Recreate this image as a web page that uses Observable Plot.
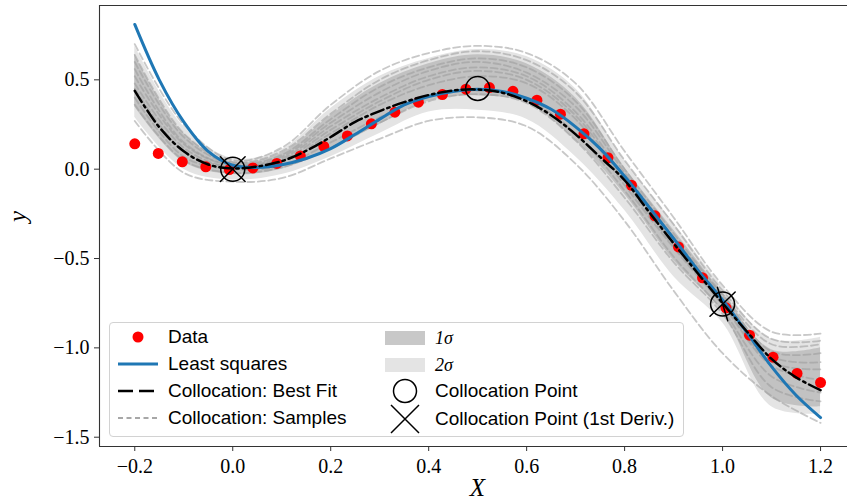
<!DOCTYPE html>
<html>
<head>
<meta charset="utf-8">
<script src="https://cdn.jsdelivr.net/npm/d3@7"></script>
<script src="https://cdn.jsdelivr.net/npm/@observablehq/plot@0.6"></script>
<style>
  html, body { margin: 0; padding: 0; background: white; }
  #wrap { position: relative; width: 847px; height: 504px; }
  #legend { position: absolute; left: 109px; top: 322px; width: 573px; height: 113px;
    border: 1px solid #d2d2d2; border-radius: 4px; background: rgba(255,255,255,0.85);
    font-family: "Liberation Sans", Arial, sans-serif; font-size: 19px; color: #000; }
  .item { position: absolute; display: flex; align-items: center; white-space: nowrap; height: 26px; }
  .item svg { margin-right: 10px; flex: none; }
  .math { font-family: "Liberation Serif", serif; font-style: italic; font-size: 18px; }
</style>
</head>
<body>
<div id="wrap"></div>
<script>
// ---- data points ----
const dataX = [-0.2, -0.152, -0.103, -0.055, -0.007, 0.041, 0.090, 0.138, 0.186, 0.234,
  0.283, 0.331, 0.379, 0.428, 0.476, 0.524, 0.572, 0.621, 0.669, 0.717,
  0.766, 0.814, 0.862, 0.910, 0.959, 1.007, 1.055, 1.103, 1.152, 1.200];
const dataY = [0.142, 0.088, 0.041, 0.013, -0.002, 0.007, 0.032, 0.074, 0.127, 0.186,
  0.254, 0.319, 0.375, 0.418, 0.448, 0.457, 0.436, 0.386, 0.308, 0.198,
  0.064, -0.090, -0.261, -0.435, -0.608, -0.776, -0.929, -1.052, -1.143, -1.194];

// ---- fitted curves (x every 0.05) ----
const fitX = [-0.2, -0.15, -0.1, -0.05, 0.0, 0.05, 0.1, 0.15, 0.2, 0.25, 0.3, 0.35, 0.4, 0.45, 0.5,
  0.55, 0.6, 0.65, 0.7, 0.75, 0.8, 0.85, 0.9, 0.95, 1.0, 1.05, 1.1, 1.15, 1.2];
const leastSquaresY = [0.81, 0.50, 0.265, 0.10, 0.022, 0.010, 0.025, 0.06, 0.115, 0.195, 0.28, 0.36, 0.407, 0.435, 0.447,
  0.435, 0.397, 0.335, 0.237, 0.115, -0.040, -0.213, -0.388, -0.566, -0.732, -0.916, -1.105, -1.265, -1.39];
const bestFitY = [0.438, 0.235, 0.100, 0.026, 0.004, 0.015, 0.045, 0.103, 0.180, 0.265, 0.325, 0.375, 0.415, 0.440, 0.446,
  0.428, 0.380, 0.302, 0.195, 0.068, -0.062, -0.240, -0.415, -0.585, -0.750, -0.910, -1.062, -1.165, -1.237];

// ---- uncertainty bands and samples (x every 0.1) ----
const gridX = [-0.2, -0.1, 0.0, 0.1, 0.2, 0.3, 0.4, 0.5, 0.6, 0.7, 0.8, 0.9, 1.0, 1.1, 1.2];
const lo2 = [0.29, 0.00, -0.06, -0.03, 0.07, 0.20, 0.32, 0.33, 0.28, 0.07, -0.23, -0.60, -0.86, -1.33, -1.37];
const lo1 = [0.35, 0.04, -0.03, 0.00, 0.11, 0.25, 0.38, 0.41, 0.37, 0.16, -0.14, -0.51, -0.80, -1.28, -1.33];
const hi1 = [0.64, 0.20, 0.04, 0.09, 0.30, 0.48, 0.59, 0.64, 0.59, 0.40, 0.01, -0.34, -0.69, -1.01, -1.00];
const hi2 = [0.69, 0.24, 0.06, 0.11, 0.34, 0.52, 0.62, 0.67, 0.63, 0.45, 0.05, -0.30, -0.66, -0.95, -0.94];

const sample1  = [0.70, 0.25, 0.05, 0.12, 0.36, 0.55, 0.65, 0.69, 0.65, 0.48, 0.10, -0.27, -0.65, -0.91, -0.92];
const sample2  = [0.27, -0.02, -0.07, -0.05, 0.06, 0.17, 0.27, 0.29, 0.24, 0.03, -0.29, -0.68, -1.03, -1.27, -1.42];
const sample3  = [0.60, 0.18, 0.03, 0.08, 0.28, 0.46, 0.57, 0.62, 0.57, 0.38, 0.00, -0.36, -0.70, -0.98, -0.98];
const sample4  = [0.52, 0.14, 0.02, 0.06, 0.24, 0.40, 0.52, 0.57, 0.52, 0.32, -0.05, -0.41, -0.73, -1.05, -1.08];
const sample5  = [0.45, 0.10, 0.01, 0.04, 0.20, 0.36, 0.47, 0.52, 0.48, 0.28, -0.09, -0.44, -0.76, -1.10, -1.18];
const sample6  = [0.40, 0.07, 0.00, 0.02, 0.15, 0.29, 0.41, 0.44, 0.39, 0.20, -0.12, -0.49, -0.79, -1.16, -1.25];
const sample7  = [0.36, 0.05, -0.02, 0.01, 0.12, 0.26, 0.38, 0.42, 0.37, 0.16, -0.16, -0.52, -0.81, -1.22, -1.30];
const sample8  = [0.56, 0.15, 0.02, 0.07, 0.26, 0.43, 0.55, 0.60, 0.54, 0.35, -0.02, -0.38, -0.71, -1.02, -1.03];
const sample9  = [0.48, 0.12, 0.01, 0.05, 0.22, 0.38, 0.50, 0.55, 0.50, 0.30, -0.07, -0.43, -0.75, -1.08, -1.12];
const sample10 = [0.64, 0.20, 0.04, 0.10, 0.31, 0.50, 0.61, 0.66, 0.61, 0.43, 0.05, -0.31, -0.68, -0.95, -0.96];

// ---- collocation points ----
const collocX = [0.0, 0.5, 1.0];
const collocY = [0.0, 0.452, -0.755];
const derivX = [0.0, 0.0, 1.0, 1.0];
const derivY = [0.0, 0.0, -0.755, -0.755];
const derivAngle = [45, 135, 46, 163];

// ---- ticks ----
const xTicks = [-0.2, 0.0, 0.2, 0.4, 0.6, 0.8, 1.0, 1.2];
const yTicks = [0.5, 0.0, -0.5, -1.0, -1.5];

const fmt = d => (d < 0 ? "\u2212" : "") + Math.abs(d).toFixed(1);

const dataRows = dataX.map((x, i) => ({x, y: dataY[i]}));
const lsRows = fitX.map((x, i) => ({x, y: leastSquaresY[i]}));
const bfRows = fitX.map((x, i) => ({x, y: bestFitY[i]}));
const bandRows = gridX.map((x, i) => ({x, lo1: lo1[i], hi1: hi1[i], lo2: lo2[i], hi2: hi2[i]}));
const samples = [sample1, sample2, sample3, sample4, sample5, sample6, sample7, sample8, sample9, sample10];
const sampleRows = samples.flatMap((s, k) => gridX.map((x, i) => ({x, y: s[i], s: k})));
const collocRows = collocX.map((x, i) => ({x, y: collocY[i]}));
const derivRows = derivX.map((x, i) => ({x, y: derivY[i], a: derivAngle[i]}));

const X0 = -0.272, X1 = 1.255, Y0 = -1.552, Y1 = 0.916;

const stroke = {
  draw(context, l) { context.moveTo(0, 0); context.lineTo(0, -l); }
};

const chart = Plot.plot({
  width: 847,
  height: 504,
  marginLeft: 99,
  marginRight: 0,
  marginTop: 5,
  marginBottom: 58,
  x: {domain: [X0, X1]},
  y: {domain: [Y0, Y1]},
  style: {fontFamily: "'Liberation Serif', 'DejaVu Serif', serif", fontSize: "20px", background: "white", overflow: "visible"},
  marks: [
    Plot.areaY(bandRows, {x: "x", y1: "lo2", y2: "hi2", fill: "#e4e4e4", curve: "catmull-rom"}),
    Plot.areaY(bandRows, {x: "x", y1: "lo1", y2: "hi1", fill: "#c2c2c2", curve: "catmull-rom"}),
    Plot.line(sampleRows, {x: "x", y: "y", z: "s", stroke: "#9a9a9a", strokeOpacity: 0.55, strokeWidth: 1.8,
      strokeDasharray: "7,3.5", curve: "catmull-rom"}),
    Plot.dot(dataRows, {x: "x", y: "y", r: 5.5, fill: "#ff0000", stroke: "none"}),
    Plot.line(lsRows, {x: "x", y: "y", stroke: "#1f77b4", strokeWidth: 3, curve: "catmull-rom"}),
    Plot.line(bfRows, {x: "x", y: "y", stroke: "black", strokeWidth: 2.5, strokeDasharray: "13,4,2.5,4",
      curve: "catmull-rom"}),
    Plot.dot(collocRows, {x: "x", y: "y", r: 12, stroke: "black", strokeWidth: 1.5, fill: "none"}),
    Plot.vector(derivRows, {x: "x", y: "y", rotate: "a", length: 35, anchor: "middle", shape: stroke,
      stroke: "black", strokeWidth: 1.5}),
    Plot.ruleX([X0], {stroke: "#333", strokeWidth: 1.1}),
    Plot.ruleY([Y0], {stroke: "#333", strokeWidth: 1.1}),
    Plot.ruleY([Y1], {stroke: "#333", strokeWidth: 1.1}),
    Plot.axisX({ticks: xTicks, tickFormat: fmt, tickSize: 5, tickPadding: 7, fontSize: 20, label: null, stroke: "#333"}),
    Plot.axisY({ticks: yTicks, tickFormat: fmt, tickSize: 5, tickPadding: 5, fontSize: 20, label: null, stroke: "#333"}),
    Plot.text(["X"], {frameAnchor: "bottom", text: d => d, dx: 4, dy: 49, fontSize: 25, fontStyle: "italic"}),
    Plot.text(["y"], {frameAnchor: "left", text: d => d, dx: -82, dy: -4, rotate: -90, fontSize: 25, fontStyle: "italic"})
  ]
});

const wrap = document.getElementById("wrap");
wrap.appendChild(chart);

// ---- legend (HTML overlay) ----
const legend = document.createElement("div");
legend.id = "legend";
wrap.appendChild(legend);
const L = 109, T = 322;
const items = [
  {px: 118, py: 337, label: "Data", handle: `<circle cx="20" cy="13" r="5.5" fill="#ff0000"/>`},
  {px: 118, py: 364, label: "Least squares", handle: `<line x1="0" y1="13" x2="40" y2="13" stroke="#1f77b4" stroke-width="3"/>`},
  {px: 118, py: 391, label: "Collocation: Best Fit", handle: `<line x1="0" y1="13" x2="40" y2="13" stroke="black" stroke-width="2.5" stroke-dasharray="15,6"/>`},
  {px: 118, py: 418, label: "Collocation: Samples", handle: `<line x1="0" y1="13" x2="40" y2="13" stroke="#8a8a8a" stroke-width="1.5" stroke-dasharray="5,3.5"/>`},
  {px: 385, py: 338, label: `<span class="math">1σ</span>`, handle: `<rect x="0" y="6" width="40" height="14" fill="#c8c8c8"/>`},
  {px: 385, py: 365, label: `<span class="math">2σ</span>`, handle: `<rect x="0" y="6" width="40" height="14" fill="#e4e4e4"/>`},
  {px: 385, py: 391, label: "Collocation Point", handle: `<circle cx="20" cy="13" r="11.5" fill="none" stroke="black" stroke-width="1.5"/>`},
  {px: 385, py: 419, label: "Collocation Point (1st Deriv.)", handle: `<path d="M6,-1 L34,27 M34,-1 L6,27" stroke="black" stroke-width="1.5" fill="none"/>`}
];
for (const it of items) {
  const d = document.createElement("div");
  d.className = "item";
  d.style.left = (it.px - L - 1) + "px";
  d.style.top = (it.py - T - 13 - 1) + "px";
  d.innerHTML = `<svg width="40" height="26" style="overflow:visible">${it.handle}</svg><span>${it.label}</span>`;
  legend.appendChild(d);
}
</script>
</body>
</html>
